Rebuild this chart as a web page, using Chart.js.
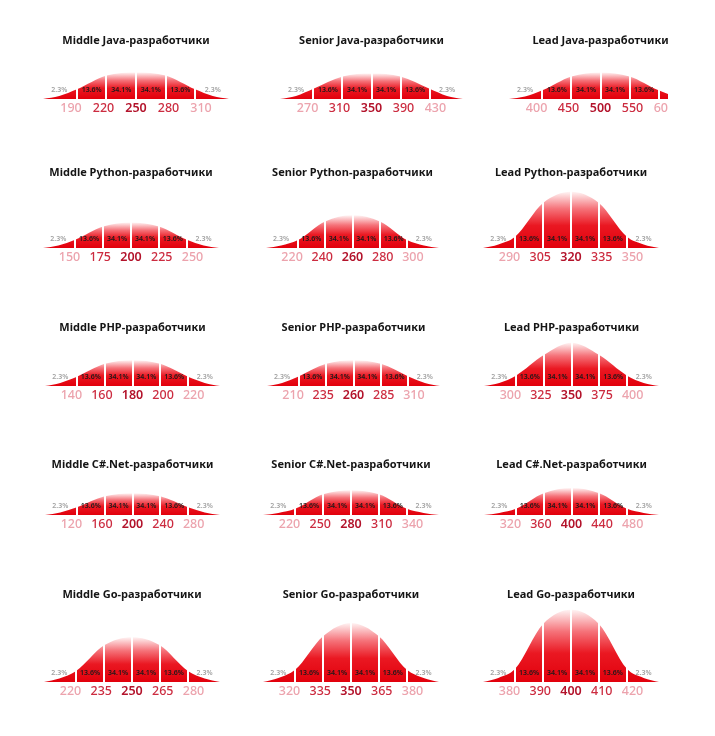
<!DOCTYPE html>
<html><head><meta charset="utf-8">
<script src="https://cdn.jsdelivr.net/npm/chart.js@4.4.1/dist/chart.umd.min.js"></script>
<style>
html,body{margin:0;padding:0;background:#fff;width:715px;height:736px;overflow:hidden;position:relative}
.p{position:absolute;overflow:hidden}
canvas{display:block}
</style></head><body>
<script>
// ---- DATA ----
const titles = [
  'Middle Java-разработчики','Senior Java-разработчики','Lead Java-разработчики',
  'Middle Python-разработчики','Senior Python-разработчики','Lead Python-разработчики',
  'Middle PHP-разработчики','Senior PHP-разработчики','Lead PHP-разработчики',
  'Middle C#.Net-разработчики','Senior C#.Net-разработчики','Lead C#.Net-разработчики',
  'Middle Go-разработчики','Senior Go-разработчики','Lead Go-разработчики'
];
const javaTicks   = [[190,220,250,280,310],[270,310,350,390,430],[400,450,500,550,600]];
const pythonTicks = [[150,175,200,225,250],[220,240,260,280,300],[290,305,320,335,350]];
const phpTicks    = [[140,160,180,200,220],[210,235,260,285,310],[300,325,350,375,400]];
const csharpTicks = [[120,160,200,240,280],[220,250,280,310,340],[320,360,400,440,480]];
const goTicks     = [[220,235,250,265,280],[320,335,350,365,380],[380,390,400,410,420]];
const tickValues = [...javaTicks, ...pythonTicks, ...phpTicks, ...csharpTicks, ...goTicks];
// curve heights (relative units) at the mean, at ±1σ, ±2σ, ±2.6σ
const heightAtMean   = [26,25,26, 25,32,55, 25,25,42, 21,24,26, 44,58,71];
const heightAt1Sigma = [23,22,22, 21,26,44, 21.5,21.5,30, 18,20,21, 36,45,57];
const heightAt2Sigma = [9.5,10,8.5, 8,7.5,11, 9,9.3,10, 7.5,6,6, 10.7,12,13];
const heightAtTail   = [3,3,2.5, 2.5,2.5,3.5, 3,3,3, 2.5,2,2, 3.5,4,4];
const sigmaSteps = [-3.15,-2.6,-2,-1,0,1,2,2.6,3.15];
const pctLabels = ['2.3%','13.6%','34.1%','34.1%','13.6%','2.3%'];

// ---- LAYOUT ----
const rowTitleY  = [40.7,173,328,465,595];
const rowBaseline= [98,247,385,514,681];
const panelCx    = [136,371,600, 131,352,571, 132,353,571, 132,351,571, 132,351,571];
const panelSigPx = [29.5,29,29, 28,27.5,28, 27.7,27.5,27.8, 27.8,28,27.8, 28,28,28];
const clipRight  = 668;
const pctSigmaPos = [-2.6,-1.5,-0.5,0.5,1.5,2.6];
const LABEL_SPREAD = 1.1;
const SPAN = 3.15;
const TITLE_SIZE = 11, TICK_SIZE = 12.5, TICK_PAD = 2;
const AXIS_H = TICK_PAD + TICK_SIZE*1.2 + 3;
const FONT = '"Noto Sans", sans-serif';

const pctPlugin = {
  id: 'pct',
  afterDraw(chart, args, opts) {
    const {ctx, chartArea, scales} = chart;
    ctx.save();
    ctx.font = '600 7px ' + FONT;
    ctx.textAlign = 'center';
    ctx.textBaseline = 'middle';
    pctLabels.forEach((t, i) => {
      const x = scales.x.getPixelForValue(opts.mu + pctSigmaPos[i]*opts.sigma);
      ctx.fillStyle = (i === 0 || i === 5) ? '#a3a3a3' : '#1a1a1a';
      ctx.fillText(t, x, chartArea.bottom - 9);
    });
    ctx.restore();
  }
};

titles.forEach((title, i) => {
  const r = Math.floor(i/3);
  const tv = tickValues[i];
  const mu = tv[2], sig = tv[3]-tv[2];
  const peak = heightAtMean[i];
  const heights = [0, heightAtTail[i], heightAt2Sigma[i], heightAt1Sigma[i], heightAtMean[i],
                   heightAt1Sigma[i], heightAt2Sigma[i], heightAtTail[i], 0];
  const sp = panelSigPx[i];
  const W = Math.round(2*SPAN*sp);
  const left = panelCx[i] - W/2;
  const top = rowTitleY[r] - TITLE_SIZE*1.2/2;
  const chartTop = rowTitleY[r] + 10;
  const yMax = rowBaseline[r] - chartTop;
  const H = Math.round(rowBaseline[r] - top + AXIS_H);
  const div = document.createElement('div');
  div.className = 'p';
  div.style.left = left + 'px';
  div.style.top = top + 'px';
  div.style.width = Math.min(W, clipRight - left) + 'px';
  div.style.height = H + 'px';
  const cv = document.createElement('canvas');
  cv.width = W; cv.height = H;
  cv.style.width = W + 'px'; cv.style.height = H + 'px';
  div.appendChild(cv);
  document.body.appendChild(div);

  const pts = sigmaSteps.map((k, j) => ({x: mu + k*sig, y: heights[j]}));
  new Chart(cv, {
    type: 'line',
    data: { datasets: [{
      data: pts,
      borderWidth: 0,
      pointRadius: 0,
      cubicInterpolationMode: 'monotone',
      fill: 'origin',
      backgroundColor: (c) => {
        const ch = c.chart, area = ch.chartArea;
        if (!area) return '#e3000f';
        const yTop = ch.scales.y.getPixelForValue(peak);
        const g = ch.ctx.createLinearGradient(0, yTop, 0, area.bottom);
        g.addColorStop(0, '#fff4f4');
        g.addColorStop(0.3, '#f5737a');
        g.addColorStop(0.6, '#ea1822');
        g.addColorStop(1, '#e2000c');
        return g;
      }
    }]},
    options: {
      responsive: false,
      animation: false,
      events: [],
      devicePixelRatio: 1,
      layout: { padding: 0 },
      plugins: {
        legend: { display: false },
        tooltip: { enabled: false },
        title: {
          display: true, text: title, color: '#151515',
          font: { family: FONT, size: TITLE_SIZE, weight: '700' },
          padding: { top: 0, bottom: chartTop - top - TITLE_SIZE*1.2 }
        },
        pct: { mu: mu, sigma: sig }
      },
      scales: {
        x: {
          type: 'linear', position: 'bottom',
          min: mu - SPAN*sig, max: mu + SPAN*sig,
          afterBuildTicks: (s) => { s.ticks = tv.map(v => ({value: v})); },
          grid: { color: '#ffffff', lineWidth: 2, z: 1, drawTicks: false },
          border: { display: false },
          ticks: { display: false }
        },
        xl: {
          type: 'linear', axis: 'x', position: 'bottom',
          min: mu - SPAN*sig/LABEL_SPREAD, max: mu + SPAN*sig/LABEL_SPREAD,
          afterBuildTicks: (s) => { s.ticks = tv.map(v => ({value: v})); },
          grid: { display: false, drawTicks: false },
          border: { display: false },
          ticks: {
            padding: TICK_PAD,
            maxRotation: 0, autoSkip: false,
            callback: (v) => String(v),
            color: (c) => c.index === 2 ? '#b3132b' : (c.index === 1 || c.index === 3) ? '#cc2c40' : '#eca3ad',
            font: (c) => ({ family: FONT, size: TICK_SIZE, weight: c.index === 2 ? '600' : '500' })
          }
        },
        y: { display: false, min: 0, max: yMax }
      }
    },
    plugins: [pctPlugin]
  });
});
</script>
</body></html>
